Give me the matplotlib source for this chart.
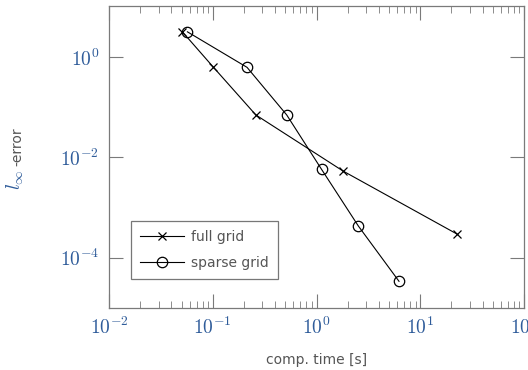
import matplotlib
matplotlib.use("Agg")
import matplotlib.pyplot as plt
from matplotlib.ticker import LogLocator, NullFormatter, FuncFormatter
import numpy as np

# data
full_time = [0.051, 0.101, 0.26, 1.8, 22.4]
full_err = [3.16, 0.63, 0.070, 0.00535, 3.0e-4]

sparse_time = [0.057, 0.214, 0.516, 1.12, 2.53, 6.24]
sparse_err = [3.16, 0.62, 0.070, 0.00575, 4.3e-4, 3.4e-5]

blue = "#2f5c9a"
gray = "#555555"
axcol = "#7a7a7a"

plt.rcParams["mathtext.fontset"] = "cm"

W, H = 528, 370
fig = plt.figure(figsize=(W / 100, H / 100), dpi=100)
ax = fig.add_axes([109 / W, 1 - 308 / H, 415 / W, 302 / H])

ax.plot(full_time, full_err, color="black", lw=0.8, marker="x", ms=5.5,
        mew=0.9, label="full grid")
ax.plot(sparse_time, sparse_err, color="black", lw=0.8, marker="o", ms=7.5,
        mfc="none", mew=0.9, label="sparse grid")

ax.set_xscale("log")
ax.set_yscale("log")
ax.set_xlim(1e-2, 1e2)
ax.set_ylim(1e-5, 10 ** 1.014)

pow10 = FuncFormatter(lambda v, p: r"$10^{%d}$" % round(np.log10(v)))
ax.xaxis.set_major_locator(LogLocator(base=10, numticks=10))
ax.xaxis.set_major_formatter(pow10)
ax.xaxis.set_minor_locator(LogLocator(base=10, subs=range(2, 10), numticks=10))
ax.xaxis.set_minor_formatter(NullFormatter())
ax.set_yticks([1e-4, 1e-2, 1e0])
ax.yaxis.set_major_formatter(pow10)
ax.yaxis.set_minor_locator(plt.NullLocator())

ax.tick_params(which="both", direction="in", top=True, right=True,
               color=axcol, labelcolor=blue, labelsize=14)
ax.tick_params(axis="x", pad=6)
ax.tick_params(axis="y", pad=7)
ax.tick_params(which="major", length=10, width=0.8)
ax.tick_params(which="minor", length=5, width=0.6)
for s in ax.spines.values():
    s.set_color(axcol)
    s.set_linewidth(0.9)

ax.set_xlabel("comp. time [s]", color=gray, fontsize=10, labelpad=11)

# y label: blue math part + gray text part
fig.text(21 / W, 1 - 190 / H, r"$l_\infty$", color=blue, fontsize=14,
         rotation=90, rotation_mode="anchor", ha="left", va="baseline")
fig.text(21 / W, 1 - 166 / H, "-error", color=gray, fontsize=10,
         rotation=90, rotation_mode="anchor", ha="left", va="baseline")

leg = ax.legend(loc="lower left", bbox_to_anchor=(0.053, 0.096), fontsize=10,
                frameon=True, fancybox=False, edgecolor="#555555",
                handlelength=3.2, borderpad=0.65, labelspacing=0.85,
                handletextpad=0.5, borderaxespad=0)
leg.get_frame().set_linewidth(0.9)
for t in leg.get_texts():
    t.set_color(gray)

fig.savefig("out.png", dpi=100)
